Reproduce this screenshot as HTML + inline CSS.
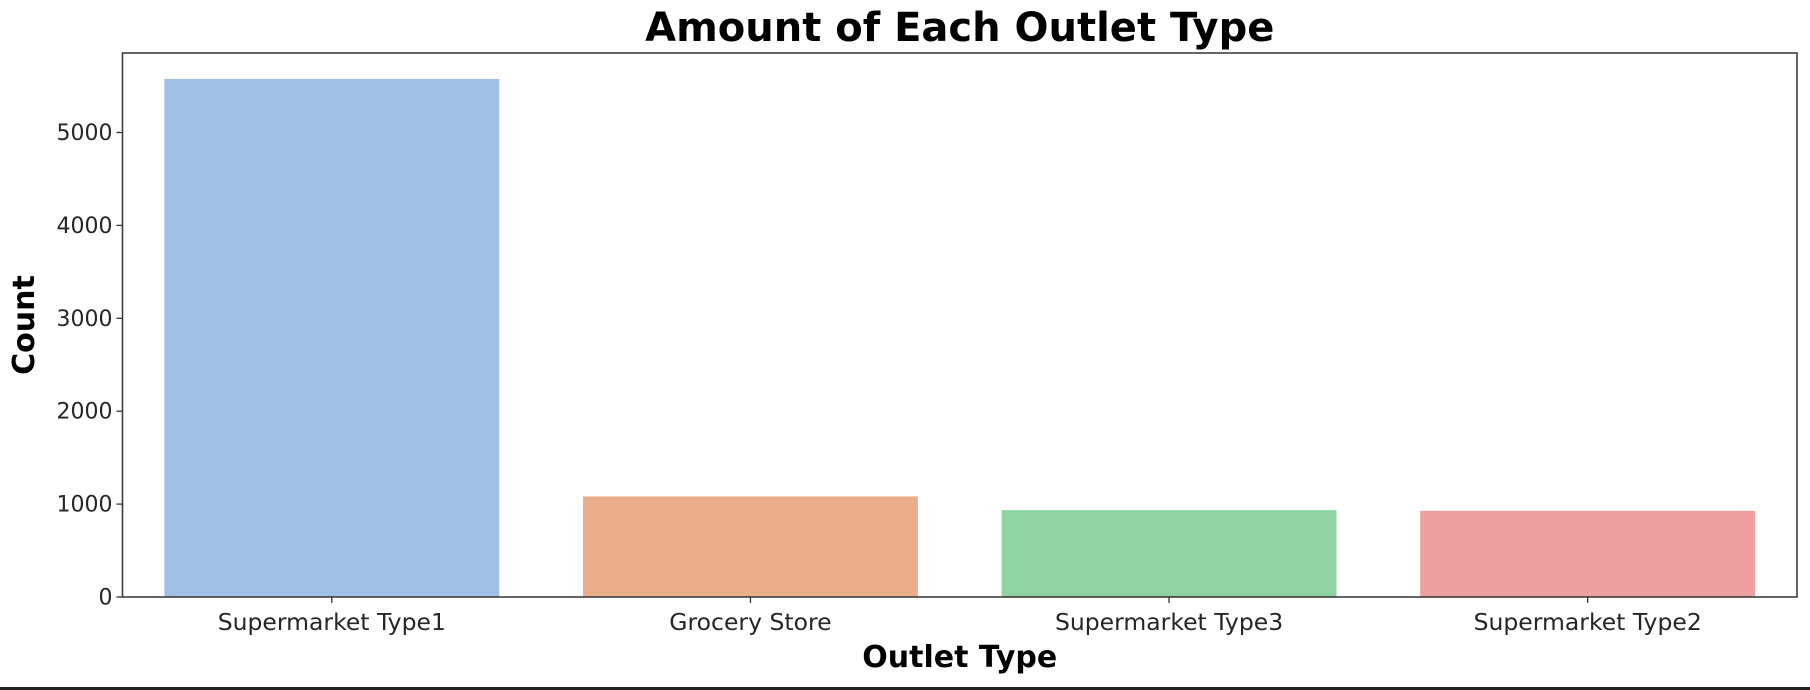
<!DOCTYPE html>
<html><head><meta charset="utf-8"><style>
html,body{margin:0;padding:0;background:#fff;width:1810px;height:690px;overflow:hidden}
svg text{font-family:"DejaVu Sans","Liberation Sans",sans-serif;fill:#262626}
</style></head><body>
<svg id="chart" width="1810" height="690" xmlns="http://www.w3.org/2000/svg"></svg>
<script>
const categories=["Supermarket Type1","Grocery Store","Supermarket Type3","Supermarket Type2"];
const counts=[5577,1083,935,928];
const colors=["#a1c0e6","#eaae8a","#8fd4a0","#eea0a0"];
const yTicks=[0,1000,2000,3000,4000,5000];
const svg=document.getElementById('chart');
const NS='http://www.w3.org/2000/svg';
const L=122.5,R=1797,T=53,B=597;
const yMax=Math.max(...counts)*1.05;
const y=v=>B-(v/yMax)*(B-T);
const band=(R-L)/categories.length;
const xc=i=>L+band*(i+0.5);
function mk(tag,attrs,txt){const e=document.createElementNS(NS,tag);for(const k in attrs)e.setAttribute(k,attrs[k]);if(txt!==undefined)e.textContent=txt;svg.appendChild(e);return e;}
categories.forEach((c,i)=>{
 const bw=band*0.8;
 const r=mk('rect',{x:xc(i)-bw/2,y:y(counts[i]),width:bw,height:B-y(counts[i]),fill:colors[i]});
 
 
 mk('line',{x1:xc(i),x2:xc(i),y1:B,y2:B+6,stroke:'#333','stroke-width':1.3});
 const lb=mk('text',{x:xc(i),y:B+33,'text-anchor':'middle','font-size':23.5},c);
 
 
});
yTicks.forEach(v=>{
 mk('line',{x1:L-6,x2:L,y1:y(v),y2:y(v),stroke:'#333','stroke-width':1.3});
 const t=mk('text',{x:L-10,y:y(v)+7.5,'text-anchor':'end','font-size':22},v);
 
 
});
const ax=mk('rect',{x:L,y:T,width:R-L,height:B-T,fill:'none',stroke:'#333','stroke-width':1.5});


const ti=mk('text',{x:(L+R)/2,y:41,'text-anchor':'middle','font-size':40,'font-weight':'bold',style:'fill:#000'},'Amount of Each Outlet Type');


const xl=mk('text',{x:(L+R)/2,y:667,'text-anchor':'middle','font-size':30,'font-weight':'bold',style:'fill:#000'},'Outlet Type');


const yl=mk('text',{x:0,y:0,'text-anchor':'middle','font-size':30,'font-weight':'bold',transform:'translate(34,'+((T+B)/2)+') rotate(-90)',style:'fill:#000'},'Count');


mk('rect',{x:0,y:687,width:1810,height:3,fill:'#222'});
</script>
</body></html>
